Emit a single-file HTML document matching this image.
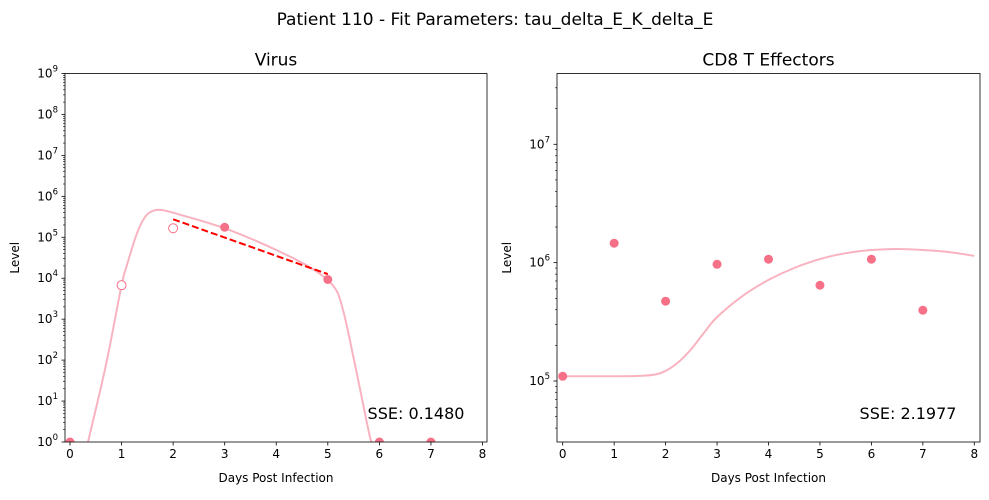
<!DOCTYPE html>
<html><head><meta charset="utf-8"><style>
body{margin:0;background:#fff;}
svg text{font-family:"DejaVu Sans","Liberation Sans",sans-serif;fill:#000;}
</style></head><body>
<svg id="fig" width="989" height="495" viewBox="0 0 989 495" xmlns="http://www.w3.org/2000/svg">
<rect width="989" height="495" fill="#fff"/>
<text x="495" y="25" font-size="17" text-anchor="middle">Patient 110 - Fit Parameters: tau_delta_E_K_delta_E</text>
<g id="left"></g>
<g id="right"></g>
</svg>
<script>
// Virus data (log10)
const virusDays = [0,1,2,3,5,6,7];
const virusLog = [0,3.83,5.22,5.245,3.97,0,0];
const virusHollow = [false,true,true,false,false,false,false];
const virusFitDays = [0.35,0.7,1,1.1,1.2,1.3,1.4,1.5,1.6,1.7,1.85,2,2.5,3,3.5,4,4.5,4.8,5,5.1,5.2,5.3,5.4,5.6,5.8,5.85];
const virusFitLog = [0,1.9,3.83,4.3,4.72,5.1,5.38,5.56,5.64,5.67,5.65,5.6,5.42,5.22,4.97,4.69,4.38,4.15,3.95,3.82,3.62,3.2,2.66,1.44,0.22,0];
const virusSlopeDays = [2,5];
const virusSlopeLog = [5.44,4.10];
// CD8 data (log10)
const cd8Days = [0,1,2,3,4,5,6,7];
const cd8Log = [5.04,6.164,5.674,5.986,6.029,5.809,6.029,5.598];
const cd8FitDays = [0,0.5,1,1.5,1.8,2,2.25,2.5,2.75,3,3.5,4,4.5,5,5.5,6,6.5,7,7.5,8];
const cd8FitLog = [5.04,5.04,5.04,5.043,5.055,5.085,5.16,5.27,5.41,5.54,5.72,5.854,5.955,6.03,6.08,6.107,6.115,6.107,6.09,6.057];
const xTicks = [0,1,2,3,4,5,6,7,8];
const virusYTicks = [0,1,2,3,4,5,6,7,8,9];
const cd8YTicks = [5,6,7];

const NS="http://www.w3.org/2000/svg";
function mk(parent,tag,attrs){const e=document.createElementNS(NS,tag);for(const k in attrs)e.setAttribute(k,attrs[k]);parent.appendChild(e);return e;}
const PT="#f67088", CURVE="#f9b3c0";

function smoothPath(P){
  let d='M'+P[0][0].toFixed(1)+','+P[0][1].toFixed(1);
  for(let i=0;i<P.length-1;i++){
    const p0=P[Math.max(i-1,0)],p1=P[i],p2=P[i+1],p3=P[Math.min(i+2,P.length-1)];
    const c1=[p1[0]+(p2[0]-p0[0])/6,p1[1]+(p2[1]-p0[1])/6];
    const c2=[p2[0]-(p3[0]-p1[0])/6,p2[1]-(p3[1]-p1[1])/6];
    d+=` C${c1[0].toFixed(1)},${c1[1].toFixed(1)} ${c2[0].toFixed(1)},${c2[1].toFixed(1)} ${p2[0].toFixed(1)},${p2[1].toFixed(1)}`;
  }
  return d;
}

function panel(g,cfg){
  const {L,R,T,B,x0px,x8px,yA,yApx,yB,yBpx,ymin,ymax,title,sse,sseX,sseY}=cfg;
  const xs=d=>x0px+d*(x8px-x0px)/8;
  const ys=v=>yApx+(v-yA)*(yBpx-yApx)/(yB-yA);
  const clipId=title.replace(/\W/g,'')+'clip';
  const defs=mk(g,'defs',{});
  const cp=mk(defs,'clipPath',{id:clipId});
  mk(cp,'rect',{x:L,y:T,width:R-L,height:B-T});
  let t=mk(g,'text',{x:(L+R)/2,y:T-8,'font-size':17,'text-anchor':'middle'});t.textContent=title;
  
  
  xTicks.forEach(d=>{
    mk(g,'line',{x1:xs(d),x2:xs(d),y1:B,y2:B+3.5,stroke:'#000','stroke-width':0.8});
    const tx=mk(g,'text',{x:xs(d),y:B+16,'font-size':12,'text-anchor':'middle'});tx.textContent=d;
    
    
  });
  let xl=mk(g,'text',{x:(L+R)/2,y:B+40,'font-size':12,'text-anchor':'middle'});xl.textContent='Days Post Infection';
  
  
  for(let dec=Math.floor(ymin);dec<=Math.ceil(ymax);dec++){
    for(let m=1;m<10;m++){
      const v=dec+Math.log10(m);
      if(v<ymin-1e-6||v>ymax+1e-6)continue;
      const y=ys(v);
      mk(g,'line',{x1:L-(m===1?3.5:2),x2:L,y1:y,y2:y,stroke:'#000','stroke-width':m===1?0.8:0.6});
    }
  }
  cfg.yTicks.forEach(v=>{
    const y=ys(v);
    const tt=mk(g,'text',{x:L-7,y:y+4,'font-size':12,'text-anchor':'end'});
    
    
    const a=document.createElementNS(NS,'tspan');a.textContent='10';tt.appendChild(a);
    const s=document.createElementNS(NS,'tspan');s.setAttribute('dy','-6');s.setAttribute('font-size','8.5');s.textContent=v;tt.appendChild(s);
  });
  let yl=mk(g,'text',{x:0,y:0,'font-size':12,'text-anchor':'middle',transform:`translate(${L-46},${(T+B)/2}) rotate(-90)`});yl.textContent='Level';
  
  
  const plot=mk(g,'g',{'clip-path':`url(#${clipId})`});
  const P=cfg.fitD.map((d,i)=>[xs(d),ys(cfg.fitV[i])]);
  const c=mk(plot,'path',{d:smoothPath(P),fill:'none',stroke:CURVE,'stroke-width':2});
  
  
  if(cfg.slopeD){
    const sl=mk(plot,'line',{x1:xs(cfg.slopeD[0]),y1:ys(cfg.slopeV[0]),x2:xs(cfg.slopeD[1]),y2:ys(cfg.slopeV[1]),stroke:'#ff0000','stroke-width':2,'stroke-dasharray':'7,3'});
    
    
  }
  const cp2=mk(defs,'clipPath',{id:clipId+'b'});
  mk(cp2,'rect',{x:L-10,y:T,width:R-L+20,height:B-T});
  const ptsG=mk(g,'g',{'clip-path':`url(#${clipId}b)`});
  cfg.dataD.forEach((d,i)=>{
    const hollow=cfg.hollow&&cfg.hollow[i];
    const p=mk(ptsG,'circle',{cx:xs(d),cy:ys(cfg.dataV[i]),r:4.5,fill:hollow?'#fff':PT,stroke:PT,'stroke-width':hollow?1:0});
    
    
  });
  const frame=mk(g,'rect',{x:L,y:T,width:R-L,height:B-T,fill:'none',stroke:'#000','stroke-width':0.8});
  
  
  const st=mk(g,'text',{x:sseX,y:sseY,'font-size':16,'text-anchor':'middle'});st.textContent=sse;
  
  
}
panel(document.getElementById('left'),{L:65,R:487,T:73.5,B:442,x0px:70,x8px:482.5,yA:0,yApx:442,yB:9,yBpx:73.5,ymin:0,ymax:9,
  title:'Virus',sse:'SSE: 0.1480',sseX:416,sseY:419,yTicks:virusYTicks,
  fitD:virusFitDays,fitV:virusFitLog,slopeD:virusSlopeDays,slopeV:virusSlopeLog,dataD:virusDays,dataV:virusLog,hollow:virusHollow});
panel(document.getElementById('right'),{L:557,R:980,T:73.5,B:442,x0px:562.7,x8px:974.3,yA:5,yApx:381,yB:7,yBpx:144.3,ymin:4.484,ymax:7.6,
  title:'CD8 T Effectors',sse:'SSE: 2.1977',sseX:908,sseY:419,yTicks:cd8YTicks,
  fitD:cd8FitDays,fitV:cd8FitLog,dataD:cd8Days,dataV:cd8Log});
</script>
</body></html>
